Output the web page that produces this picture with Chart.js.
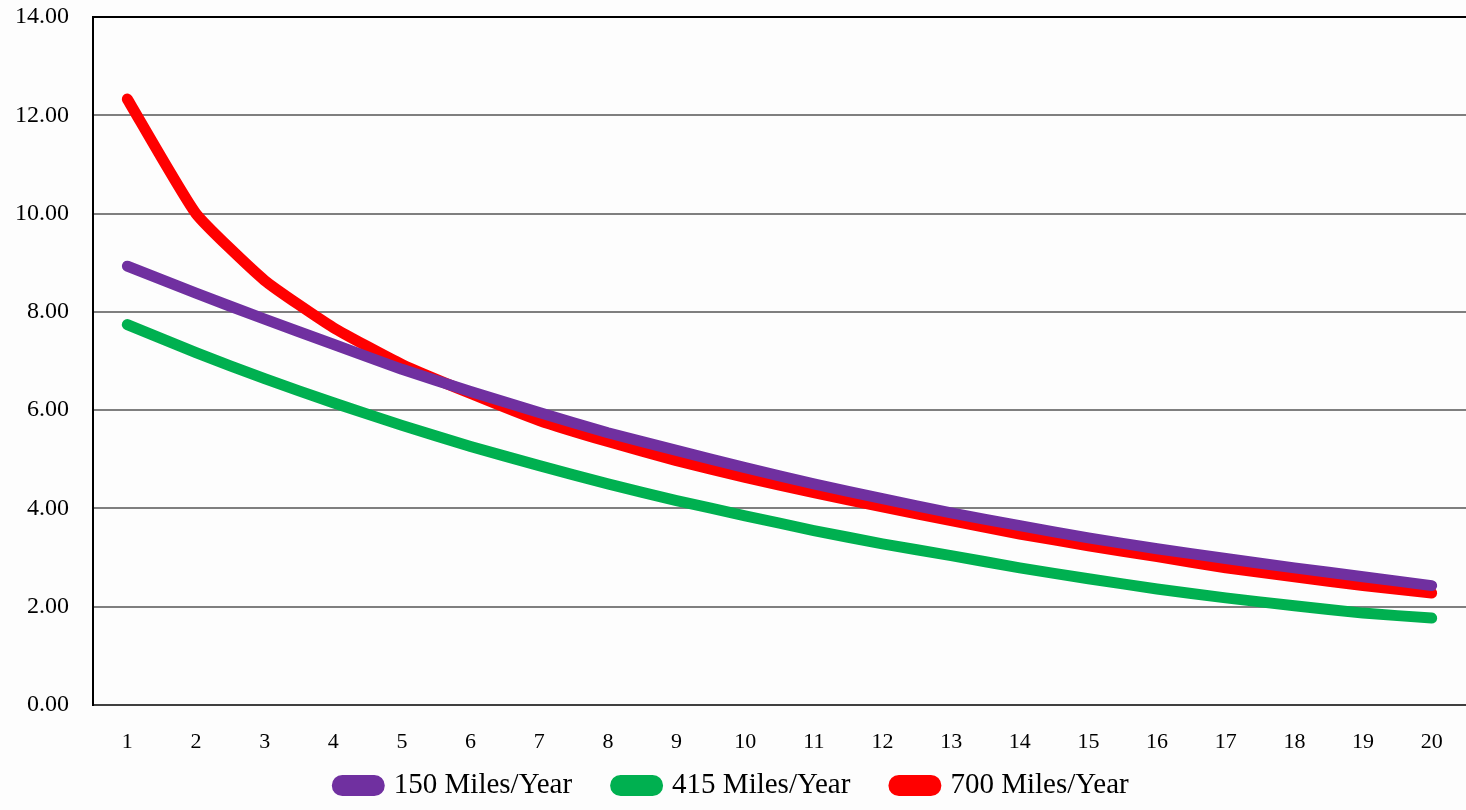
<!DOCTYPE html>
<html>
<head>
<meta charset="utf-8">
<script src="https://cdn.jsdelivr.net/npm/chart.js@4"></script>
<style>
  html, body { margin: 0; padding: 0; background: #fdfdfd; }
  #wrap { width: 1466px; height: 810px; }
</style>
</head>
<body>
<div id="wrap"><canvas id="miles-chart" width="1466" height="810"></canvas></div>
<script>
const years = ['1', '2', '3', '4', '5', '6', '7', '8', '9', '10', '11', '12', '13', '14', '15', '16', '17', '18', '19', '20'];
const miles150 = [8.93, 8.38, 7.85, 7.34, 6.83, 6.38, 5.95, 5.54, 5.18, 4.83, 4.50, 4.20, 3.91, 3.65, 3.40, 3.18, 2.98, 2.79, 2.61, 2.43];
const miles415 = [7.74, 7.17, 6.64, 6.15, 5.69, 5.26, 4.87, 4.50, 4.16, 3.85, 3.55, 3.28, 3.04, 2.79, 2.57, 2.36, 2.18, 2.02, 1.87, 1.77];
const miles700 = [12.33, 10.00, 8.64, 7.68, 6.93, 6.34, 5.79, 5.36, 4.97, 4.63, 4.32, 4.03, 3.75, 3.48, 3.24, 3.02, 2.79, 2.61, 2.43, 2.28];
const seriesNames = ['150 Miles/Year', '415 Miles/Year', '700 Miles/Year'];
const seriesColors = ['#7030A0', '#00B050', '#FF0000'];

const fontFamily = "'Liberation Serif', 'DejaVu Serif', serif";

function lineSet(label, data, color) {
    return {
        label: label,
        data: data,
        borderColor: color,
        backgroundColor: color,
        borderWidth: 11,
        borderCapStyle: 'round',
        borderJoinStyle: 'round',
        pointRadius: 0,
        tension: 0.15,
        fill: false
    };
}

const ctx = document.getElementById('miles-chart').getContext('2d');
const chart = new Chart(ctx, {
    type: 'line',
    data: {
        labels: years,
        datasets: [
            lineSet(seriesNames[0], miles150, seriesColors[0]),
            lineSet(seriesNames[1], miles415, seriesColors[1]),
            lineSet(seriesNames[2], miles700, seriesColors[2])
        ]
    },
    options: {
        responsive: false,
        animation: false,
        layout: { autoPadding: false, padding: { top: 17, right: 0, bottom: 0, left: 0 } },
        plugins: {
            tooltip: { enabled: false },
            legend: {
                position: 'bottom',
                labels: {
                    color: '#000',
                    font: { family: fontFamily, size: 29 },
                    boxWidth: 42,
                    boxHeight: 10,
                    useBorderRadius: true,
                    borderRadius: 5,
                    padding: 0,
                    // trailing spaces widen the gap between legend entries
                    generateLabels: c => {
                        const items = Chart.defaults.plugins.legend.labels.generateLabels(c);
                        items.forEach((it, i) => {
                            if (i < items.length - 1) it.text = it.text + '\u2003\u2002';
                        });
                        return items;
                    }
                }
            }
        },
        scales: {
            x: {
                offset: true,
                afterFit: axis => {
                    axis.height = 66;
                    axis.paddingLeft = 0;
                    axis.paddingRight = 0;
                },
                grid: { display: false, drawTicks: false },
                border: { display: true, color: '#404040', width: 2 },
                ticks: {
                    color: '#000',
                    padding: 24,
                    maxRotation: 0,
                    font: { family: fontFamily, size: 22 }
                }
            },
            y: {
                min: 0,
                max: 14,
                afterFit: axis => {
                    axis.width = 93;
                    axis.paddingTop = 0;
                    axis.paddingBottom = 0;
                },
                grid: {
                    drawTicks: false,
                    lineWidth: 2,
                    color: c => (c.tick && c.tick.value === 14 ? '#000' : '#7f7f7f')
                },
                border: { display: true, color: '#000', width: 2 },
                ticks: {
                    stepSize: 2,
                    color: '#000',
                    padding: 24,
                    font: { family: fontFamily, size: 24 },
                    callback: v => v.toFixed(2)
                }
            }
        }
    }
});
</script>
</body>
</html>
